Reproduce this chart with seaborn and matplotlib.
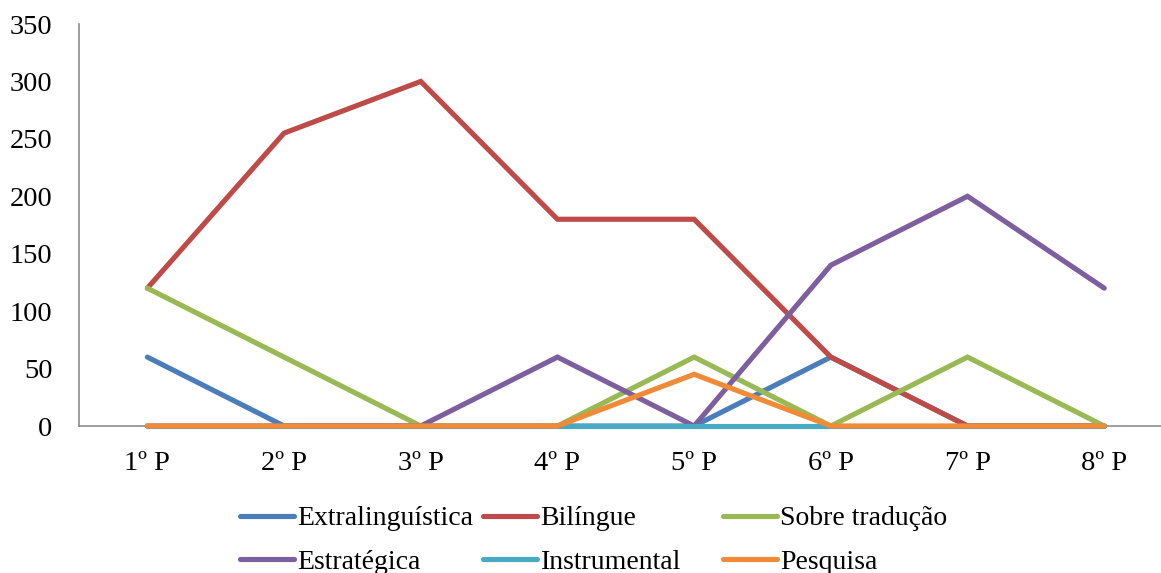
import matplotlib
matplotlib.use("Agg")
import matplotlib.pyplot as plt
from matplotlib.lines import Line2D
import seaborn as sns
import pandas as pd

# Periods on the category axis
periods = ["1º P", "2º P", "3º P", "4º P", "5º P", "6º P", "7º P", "8º P"]

# Series values per period
extralinguistica = [60, 0, 0, 0, 0, 60, 0, 0]
bilingue = [120, 255, 300, 180, 180, 60, 0, 0]
sobre_traducao = [120, 60, 0, 0, 60, 0, 60, 0]
estrategica = [0, 0, 0, 60, 0, 140, 200, 120]
instrumental = [0, 0, 0, 0, 0, 0, 0, 0]
pesquisa = [0, 0, 0, 0, 45, 0, 0, 0]

series_names = ["Extralinguística", "Bilíngue", "Sobre tradução",
                "Estratégica", "Instrumental", "Pesquisa"]
series_values = [extralinguistica, bilingue, sobre_traducao,
                 estrategica, instrumental, pesquisa]
colors = ["#4A7EBB", "#BE4B48", "#98B954", "#7D5FA0", "#46AAC5", "#F08A36"]

rows = []
for name, vals in zip(series_names, series_values):
    for p, v in zip(periods, vals):
        rows.append({"Período": p, "Valor": v, "Série": name})
df = pd.DataFrame(rows)

sns.set_style("white")
plt.rcParams["font.family"] = ["Liberation Serif", "DejaVu Serif"]

W, H = 1161, 573
fig = plt.figure(figsize=(W / 100, H / 100), dpi=100)
ax_left, ax_top, ax_bottom, ax_right = 79, 24, 426, 79 + 8 * 136.7
ax = fig.add_axes([ax_left / W, 1 - ax_bottom / H,
                   (ax_right - ax_left) / W, (ax_bottom - ax_top) / H])

palette = dict(zip(series_names, colors))
sns.lineplot(data=df, x="Período", y="Valor", hue="Série",
             hue_order=series_names, palette=palette, sort=False,
             linewidth=3.7, ax=ax, legend=False, clip_on=False)
for ln in ax.lines:
    ln.set_solid_capstyle("round")
    ln.set_solid_joinstyle("miter")

ax.set_xlim(-0.5, 7.5)
ax.set_ylim(0, 350)
ax.set_yticks(range(0, 351, 50))
ax.set_xlabel("")
ax.set_ylabel("")
ax.tick_params(axis="y", length=0, pad=19, labelsize=20.5)
ax.tick_params(axis="x", length=0, pad=18, labelsize=20.5)
for t in ax.get_xticklabels() + ax.get_yticklabels():
    t.set_color("black")

for side in ["top", "right"]:
    ax.spines[side].set_visible(False)
for side in ["left", "bottom"]:
    ax.spines[side].set_color("#8C8C8C")
    ax.spines[side].set_linewidth(1.2)
ax.spines["bottom"].set_zorder(0)

# Legend laid out in rows of three, one legend per column
col_x = [240, 483, 723]
for c in range(3):
    idx = [c, c + 3]
    handles = [Line2D([], [], color=colors[i], linewidth=3.7,
                      solid_capstyle="round") for i in idx]
    labels = [series_names[i] for i in idx]
    leg = fig.legend(handles, labels, loc="upper left",
                     bbox_to_anchor=(col_x[c] / W, 1 - 506 / H),
                     frameon=False, fontsize=20, handlelength=1.95,
                     handletextpad=0.12, borderpad=0, borderaxespad=0,
                     labelspacing=0.64, labelcolor="black")

fig.savefig("out.png", dpi=100)
